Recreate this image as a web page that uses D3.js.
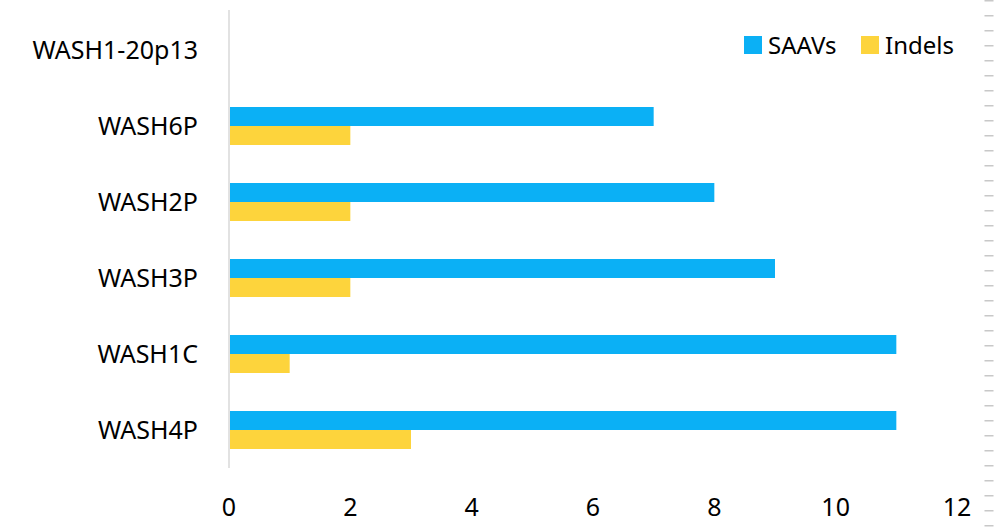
<!DOCTYPE html>
<html><head><meta charset="utf-8">
<script src="https://cdn.jsdelivr.net/npm/d3@7"></script>
<style>body{margin:0;background:#fff}text{font-family:"Noto Sans",sans-serif}</style>
</head><body><div id="chart"></div>
<script>
const categories = ['WASH1-20p13', 'WASH6P', 'WASH2P', 'WASH3P', 'WASH1C', 'WASH4P'];
const saavs = [0, 7, 8, 9, 11, 11];
const indels = [0, 2, 2, 2, 1, 3];
const seriesNames = ['SAAVs', 'Indels'];
const colors = ['#0bb0f5', '#fdd43c'];
const ticks = [0, 2, 4, 6, 8, 10, 12];

const svg = d3.select('#chart').append('svg').attr('width', 994).attr('height', 530);

const x = d3.scaleLinear().domain([0, 12]).range([229, 957]);
const y = d3.scaleBand().domain(categories).range([12, 468]).paddingInner(0.5).paddingOuter(0.25);
const sub = d3.scaleBand().domain(seriesNames).range([0, y.bandwidth()]);

// right edge dashed marks
svg.append('line').attr('x1', 989).attr('x2', 989).attr('y1', 0).attr('y2', 530)
    .attr('stroke', '#c8c8c8').attr('stroke-width', 9).attr('stroke-dasharray', '1.5,13.5');

svg.append('line').attr('x1', x(0)).attr('x2', x(0)).attr('y1', 10).attr('y2', 468)
    .attr('stroke', '#d9d9d9').attr('stroke-width', 1.5);

const rows = categories.map((c, i) => ({ c, vals: [saavs[i], indels[i]] }));
const g = svg.append('g').selectAll('g').data(rows).join('g')
    .attr('transform', d => `translate(0,${y(d.c)})`);
g.selectAll('rect').data(d => d.vals.map((v, j) => ({ v, s: seriesNames[j], col: colors[j] })))
    .join('rect')
    .attr('x', x(0) + 1).attr('y', d => sub(d.s))
    .attr('width', d => Math.max(0, x(d.v) - x(0) - 1)).attr('height', sub.bandwidth())
    .attr('fill', d => d.col);

svg.append('g').selectAll('text').data(categories).join('text')
    .attr('x', 198).attr('y', d => y(d) + y.bandwidth() / 2 + 9)
    .attr('text-anchor', 'end').attr('font-size', 25).attr('fill', '#000').text(d => d);

svg.append('g').selectAll('text').data(ticks).join('text')
    .attr('x', d => x(d)).attr('y', 516).attr('text-anchor', 'middle')
    .attr('font-size', 25).attr('fill', '#000').text(d => d);

const leg = [[744, 768], [861, 885]];
seriesNames.forEach((s, i) => {
    svg.append('rect').attr('x', leg[i][0]).attr('y', 36).attr('width', 18).attr('height', 18).attr('fill', colors[i]);
    svg.append('text').attr('x', leg[i][1]).attr('y', 54).attr('font-size', 24).attr('fill', '#000').text(s);
});
</script></body></html>
